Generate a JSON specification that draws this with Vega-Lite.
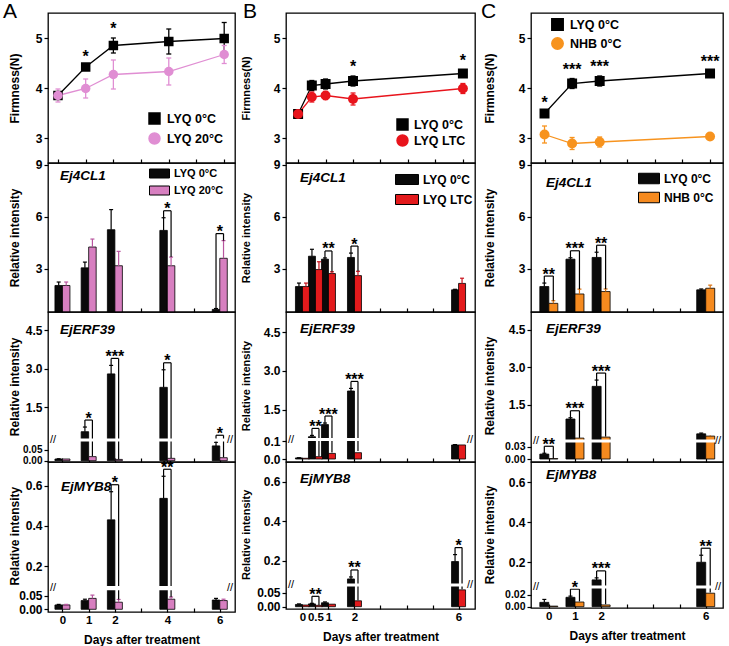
{
"$schema": "https://vega.github.io/schema/vega-lite/v6.json",
"padding": {"left": 3, "top": 1, "right": 0, "bottom": 0},
"background": "#ffffff",
"spacing": 3,
"bounds": "full",
"resolve": {"scale": {"color": "independent", "shape": "independent"}},
"config": {
 "view": {"stroke": "#000", "strokeWidth": 1.3},
 "font": "Liberation Sans",
 "axis": {"labelFont": "Liberation Sans", "labelFontSize": 12, "labelFontWeight": "bold", "labelColor": "#000", "titleFont": "Liberation Sans", "titleFontSize": 12, "titleFontWeight": "bold", "titleColor": "#000", "domain": false, "grid": false, "tickColor": "#000", "tickWidth": 1.2, "labelOverlap": false, "labelFlush": false},
 "legend": {"labelFont": "Liberation Sans", "labelColor": "#000", "padding": 0},
 "title": {"font": "Liberation Sans", "color": "#000"},
 "text": {"font": "Liberation Sans", "color": "#000"}
},
"datasets": {
 "firmA": [
  {"grp": "LYQ 0°C", "day": 0, "m": 3.85, "sd": 0.05, "sig": ""},
  {"grp": "LYQ 0°C", "day": 1, "m": 4.42, "sd": 0.03, "sig": "*"},
  {"grp": "LYQ 0°C", "day": 2, "m": 4.85, "sd": 0.15, "sig": "*"},
  {"grp": "LYQ 0°C", "day": 4, "m": 4.93, "sd": 0.25, "sig": ""},
  {"grp": "LYQ 0°C", "day": 6, "m": 4.99, "sd": 0.32, "sig": ""},
  {"grp": "LYQ 20°C", "day": 0, "m": 3.85, "sd": 0.13, "sig": ""},
  {"grp": "LYQ 20°C", "day": 1, "m": 3.99, "sd": 0.19, "sig": ""},
  {"grp": "LYQ 20°C", "day": 2, "m": 4.27, "sd": 0.29, "sig": ""},
  {"grp": "LYQ 20°C", "day": 4, "m": 4.33, "sd": 0.27, "sig": ""},
  {"grp": "LYQ 20°C", "day": 6, "m": 4.67, "sd": 0.18, "sig": ""}
 ],
 "firmB": [
  {"grp": "LYQ 0°C", "day": 0, "m": 3.48, "sd": 0.03, "sig": ""},
  {"grp": "LYQ 0°C", "day": 0.5, "m": 4.05, "sd": 0.1, "sig": ""},
  {"grp": "LYQ 0°C", "day": 1, "m": 4.08, "sd": 0.1, "sig": ""},
  {"grp": "LYQ 0°C", "day": 2, "m": 4.14, "sd": 0.1, "sig": "*"},
  {"grp": "LYQ 0°C", "day": 6, "m": 4.29, "sd": 0.07, "sig": "*"},
  {"grp": "LYQ LTC", "day": 0, "m": 3.48, "sd": 0.06, "sig": ""},
  {"grp": "LYQ LTC", "day": 0.5, "m": 3.82, "sd": 0.1, "sig": ""},
  {"grp": "LYQ LTC", "day": 1, "m": 3.85, "sd": 0.08, "sig": ""},
  {"grp": "LYQ LTC", "day": 2, "m": 3.78, "sd": 0.12, "sig": ""},
  {"grp": "LYQ LTC", "day": 6, "m": 3.99, "sd": 0.1, "sig": ""}
 ],
 "firmC": [
  {"grp": "LYQ 0°C", "day": 0, "m": 3.49, "sd": 0.03, "sig": "*"},
  {"grp": "LYQ 0°C", "day": 1, "m": 4.09, "sd": 0.1, "sig": "***"},
  {"grp": "LYQ 0°C", "day": 2, "m": 4.14, "sd": 0.1, "sig": "***"},
  {"grp": "LYQ 0°C", "day": 6, "m": 4.29, "sd": 0.06, "sig": "***"},
  {"grp": "NHB 0°C", "day": 0, "m": 3.07, "sd": 0.17, "sig": ""},
  {"grp": "NHB 0°C", "day": 1, "m": 2.89, "sd": 0.12, "sig": ""},
  {"grp": "NHB 0°C", "day": 2, "m": 2.92, "sd": 0.1, "sig": ""},
  {"grp": "NHB 0°C", "day": 6, "m": 3.03, "sd": 0.06, "sig": ""}
 ],
 "genesA": [
  {"gene": "Ej4CL1", "day": 0, "c": 2.03, "cs": 0.2, "t": 2.03, "ts": 0.2, "sig": ""},
  {"gene": "Ej4CL1", "day": 1, "c": 3.05, "cs": 0.33, "t": 4.25, "ts": 0.46, "sig": ""},
  {"gene": "Ej4CL1", "day": 2, "c": 5.25, "cs": 1.16, "t": 3.17, "ts": 0.83, "sig": ""},
  {"gene": "Ej4CL1", "day": 4, "c": 5.21, "cs": 0.73, "t": 3.17, "ts": 0.5, "sig": "*"},
  {"gene": "Ej4CL1", "day": 6, "c": 0.65, "cs": 0.05, "t": 3.6, "ts": 1.02, "sig": "*"},
  {"gene": "EjERF39", "day": 0, "c": 0.008, "cs": 0.001, "t": 0.008, "ts": 0.001, "sig": ""},
  {"gene": "EjERF39", "day": 1, "c": 0.56, "cs": 0.18, "t": 0.019, "ts": 0.002, "sig": "*"},
  {"gene": "EjERF39", "day": 2, "c": 2.8, "cs": 0.33, "t": 0.006, "ts": 0.001, "sig": "***"},
  {"gene": "EjERF39", "day": 4, "c": 2.28, "cs": 0.68, "t": 0.011, "ts": 0.002, "sig": "*"},
  {"gene": "EjERF39", "day": 6, "c": 0.069, "cs": 0.017, "t": 0.014, "ts": 0.002, "sig": "*"},
  {"gene": "EjMYB8", "day": 0, "c": 0.016, "cs": 0.002, "t": 0.016, "ts": 0.002, "sig": ""},
  {"gene": "EjMYB8", "day": 1, "c": 0.032, "cs": 0.005, "t": 0.04, "ts": 0.012, "sig": ""},
  {"gene": "EjMYB8", "day": 2, "c": 0.43, "cs": 0.14, "t": 0.026, "ts": 0.01, "sig": "*"},
  {"gene": "EjMYB8", "day": 4, "c": 0.537, "cs": 0.11, "t": 0.037, "ts": 0.008, "sig": "**"},
  {"gene": "EjMYB8", "day": 6, "c": 0.034, "cs": 0.006, "t": 0.032, "ts": 0.005, "sig": ""}
 ],
 "genesB": [
  {"gene": "Ej4CL1", "day": 0, "c": 1.97, "cs": 0.2, "t": 1.97, "ts": 0.2, "sig": ""},
  {"gene": "Ej4CL1", "day": 0.5, "c": 3.72, "cs": 0.4, "t": 2.95, "ts": 0.45, "sig": ""},
  {"gene": "Ej4CL1", "day": 1, "c": 3.55, "cs": 0.07, "t": 2.72, "ts": 0.1, "sig": "**"},
  {"gene": "Ej4CL1", "day": 2, "c": 3.65, "cs": 0.25, "t": 2.6, "ts": 0.25, "sig": "*"},
  {"gene": "Ej4CL1", "day": 6, "c": 1.78, "cs": 0.03, "t": 2.15, "ts": 0.3, "sig": ""},
  {"gene": "EjERF39", "day": 0, "c": 0.006, "cs": 0.001, "t": 0.004, "ts": 0.001, "sig": ""},
  {"gene": "EjERF39", "day": 0.5, "c": 0.45, "cs": 0.05, "t": 0.013, "ts": 0.002, "sig": "**"},
  {"gene": "EjERF39", "day": 1, "c": 0.92, "cs": 0.06, "t": 0.031, "ts": 0.005, "sig": "***"},
  {"gene": "EjERF39", "day": 2, "c": 2.22, "cs": 0.1, "t": 0.035, "ts": 0.01, "sig": "***"},
  {"gene": "EjERF39", "day": 6, "c": 0.078, "cs": 0.002, "t": 0.078, "ts": 0.002, "sig": ""},
  {"gene": "EjMYB8", "day": 0, "c": 0.008, "cs": 0.002, "t": 0.006, "ts": 0.001, "sig": ""},
  {"gene": "EjMYB8", "day": 0.5, "c": 0.01, "cs": 0.002, "t": 0.005, "ts": 0.001, "sig": "**"},
  {"gene": "EjMYB8", "day": 1, "c": 0.014, "cs": 0.003, "t": 0.009, "ts": 0.002, "sig": ""},
  {"gene": "EjMYB8", "day": 2, "c": 0.109, "cs": 0.01, "t": 0.021, "ts": 0.002, "sig": "**"},
  {"gene": "EjMYB8", "day": 6, "c": 0.197, "cs": 0.035, "t": 0.06, "ts": 0.002, "sig": "*"}
 ],
 "genesC": [
  {"gene": "Ej4CL1", "day": 0, "c": 1.97, "cs": 0.2, "t": 1.0, "ts": 0.15, "sig": "**"},
  {"gene": "Ej4CL1", "day": 1, "c": 3.55, "cs": 0.08, "t": 1.54, "ts": 0.28, "sig": "***"},
  {"gene": "Ej4CL1", "day": 2, "c": 3.65, "cs": 0.3, "t": 1.68, "ts": 0.15, "sig": "**"},
  {"gene": "Ej4CL1", "day": 6, "c": 1.78, "cs": 0.05, "t": 1.87, "ts": 0.18, "sig": ""},
  {"gene": "EjERF39", "day": 0, "c": 0.012, "cs": 0.002, "t": 0.001, "ts": 0.0005, "sig": "**"},
  {"gene": "EjERF39", "day": 1, "c": 0.94, "cs": 0.05, "t": 0.18, "ts": 0.01, "sig": "***"},
  {"gene": "EjERF39", "day": 2, "c": 2.24, "cs": 0.25, "t": 0.22, "ts": 0.02, "sig": "***"},
  {"gene": "EjERF39", "day": 6, "c": 0.35, "cs": 0.03, "t": 0.26, "ts": 0.03, "sig": ""},
  {"gene": "EjMYB8", "day": 0, "c": 0.0074, "cs": 0.005, "t": 0.001, "ts": 0.0005, "sig": ""},
  {"gene": "EjMYB8", "day": 1, "c": 0.016, "cs": 0.002, "t": 0.008, "ts": 0.001, "sig": "*"},
  {"gene": "EjMYB8", "day": 2, "c": 0.112, "cs": 0.01, "t": 0.003, "ts": 0.001, "sig": "***"},
  {"gene": "EjMYB8", "day": 6, "c": 0.2, "cs": 0.035, "t": 0.023, "ts": 0.001, "sig": "**"}
 ]
},
"hconcat": [
{
 "title": {"text": "A", "anchor": "start", "frame": "group", "fontSize": 21, "fontWeight": "normal", "dx": -45, "offset": -10},
 "spacing": 0, "bounds": "flush",
 "resolve": {"scale": {"color": "independent", "shape": "independent"}},
 "vconcat": [
  {
   "width": 187, "height": 150,
   "data": {"name": "firmA"},
   "transform": [{"calculate": "datum.m + datum.sd", "as": "hi"}, {"calculate": "datum.m - datum.sd", "as": "lo"}],
   "encoding": {"x": {"field": "day", "type": "quantitative", "scale": {"domain": [-0.36, 6.39], "nice": false, "zero": false}, "axis": {"values": [0,1,2,3,4,5,6], "tickCount": 50, "labels": false, "tickSize": -4, "title": null}}},
   "layer": [
    {"mark": {"type": "line", "strokeWidth": 1.3}, "encoding": {"y": {"field": "m", "type": "quantitative", "scale": {"domain": [2.5, 5.5], "nice": false, "zero": false}, "axis": {"values": [3,4,5], "tickCount": 50, "format": "d", "title": "Firmness(N)", "tickSize": 4, "labelPadding": 2, "minExtent": 24, "maxExtent": 24, "titlePadding": 3, "labelOverlap": false}}, "color": {"field": "grp", "type": "nominal", "scale": {"domain": ["LYQ 0°C", "LYQ 20°C"], "range": ["#000000", "#e08ed3"]}, "legend": {"title": null, "orient": "none", "legendX": 100, "legendY": 99, "symbolSize": 120, "labelFontSize": 12.5, "labelFontWeight": "bold", "rowPadding": 3, "labelOffset": 6}}}},
    {"mark": {"type": "rule", "strokeWidth": 1.3}, "encoding": {"y": {"field": "lo", "type": "quantitative", "scale": {"domain": [2.5, 5.5], "nice": false, "zero": false}}, "y2": {"field": "hi"}, "color": {"field": "grp", "type": "nominal", "scale": {"domain": ["LYQ 0°C", "LYQ 20°C"], "range": ["#000000", "#e08ed3"]}, "legend": {"title": null, "orient": "none", "legendX": 100, "legendY": 99, "symbolSize": 120, "labelFontSize": 12.5, "labelFontWeight": "bold", "rowPadding": 3, "labelOffset": 6}}}},
    {"mark": {"type": "rule", "strokeWidth": 1.3, "xOffset": -2.5, "x2Offset": 2.5}, "encoding": {"x2": {"field": "day"}, "y": {"field": "hi", "type": "quantitative", "scale": {"domain": [2.5, 5.5], "nice": false, "zero": false}}, "color": {"field": "grp", "type": "nominal", "scale": {"domain": ["LYQ 0°C", "LYQ 20°C"], "range": ["#000000", "#e08ed3"]}, "legend": {"title": null, "orient": "none", "legendX": 100, "legendY": 99, "symbolSize": 120, "labelFontSize": 12.5, "labelFontWeight": "bold", "rowPadding": 3, "labelOffset": 6}}}},
    {"mark": {"type": "rule", "strokeWidth": 1.3, "xOffset": -2.5, "x2Offset": 2.5}, "encoding": {"x2": {"field": "day"}, "y": {"field": "lo", "type": "quantitative", "scale": {"domain": [2.5, 5.5], "nice": false, "zero": false}}, "color": {"field": "grp", "type": "nominal", "scale": {"domain": ["LYQ 0°C", "LYQ 20°C"], "range": ["#000000", "#e08ed3"]}, "legend": {"title": null, "orient": "none", "legendX": 100, "legendY": 99, "symbolSize": 120, "labelFontSize": 12.5, "labelFontWeight": "bold", "rowPadding": 3, "labelOffset": 6}}}},
    {"mark": {"type": "point", "filled": true, "size": 90, "opacity": 1}, "encoding": {"y": {"field": "m", "type": "quantitative", "scale": {"domain": [2.5, 5.5], "nice": false, "zero": false}}, "color": {"field": "grp", "type": "nominal", "scale": {"domain": ["LYQ 0°C", "LYQ 20°C"], "range": ["#000000", "#e08ed3"]}, "legend": {"title": null, "orient": "none", "legendX": 100, "legendY": 99, "symbolSize": 120, "labelFontSize": 12.5, "labelFontWeight": "bold", "rowPadding": 3, "labelOffset": 6}}, "shape": {"field": "grp", "type": "nominal", "scale": {"domain": ["LYQ 0°C", "LYQ 20°C"], "range": ["square", "circle"]}, "legend": {"title": null, "orient": "none", "legendX": 100, "legendY": 99, "symbolSize": 120, "labelFontSize": 12.5, "labelFontWeight": "bold", "rowPadding": 3, "labelOffset": 6}}}},
    {"transform": [{"filter": "datum.sig != ''"}], "mark": {"type": "text", "fontSize": 16, "fontWeight": "bold", "dy": -4, "baseline": "alphabetic"}, "encoding": {"y": {"field": "hi", "type": "quantitative", "scale": {"domain": [2.5, 5.5], "nice": false, "zero": false}}, "text": {"field": "sig"}}}
   ]
  },
  {
   "width": 187, "height": 149,
   "data": {"name": "genesA"},
   "transform": [{"filter": "datum.gene == 'Ej4CL1'"}, {"calculate": "datum.c + datum.cs", "as": "cu"}, {"calculate": "datum.t + datum.ts", "as": "tu"}, {"calculate": "max(datum.cu, datum.tu)", "as": "hi"}],
   "layer": [
    {"mark": {"type": "bar", "width": 7.5, "xOffset": -3.75, "stroke": "#000", "strokeWidth": 0.8}, "encoding": {"x": {"field": "day", "type": "quantitative", "scale": {"domain": [-0.36, 6.39], "nice": false, "zero": false}, "axis": {"values": [0,1,2,3,4,5,6], "tickCount": 50, "labels": false, "tickSize": -4, "title": null}}, "y": {"field": "c", "type": "quantitative", "scale": {"domain": [0.5, 9.1], "nice": false, "zero": false}, "axis": {"values": [3,6,9], "tickCount": 50, "format": "d", "title": "Relative intensity", "tickSize": 4, "labelPadding": 2, "minExtent": 24, "maxExtent": 24, "titlePadding": 3, "labelOverlap": false}}, "y2": {"datum": 0.5}, "color": {"datum": "LYQ 0°C", "scale": {"domain": ["LYQ 0°C", "LYQ 20°C"], "range": ["#0a0a0a", "#d77fc0"]}, "legend": {"title": null, "orient": "none", "legendX": 101, "legendY": 0, "symbolType": "M-1,-0.45H1V0.45H-1Z", "symbolSize": 400, "symbolStrokeColor": "#000", "symbolStrokeWidth": 1, "labelFontSize": 11, "labelFontWeight": "bold", "rowPadding": -8, "labelOffset": 4}}}},
    {"mark": {"type": "bar", "width": 7.5, "xOffset": 3.75, "stroke": "#000", "strokeWidth": 0.8}, "encoding": {"x": {"field": "day", "type": "quantitative"}, "y": {"field": "t", "type": "quantitative", "scale": {"domain": [0.5, 9.1], "nice": false, "zero": false}}, "y2": {"datum": 0.5}, "color": {"datum": "LYQ 20°C", "scale": {"domain": ["LYQ 0°C", "LYQ 20°C"], "range": ["#0a0a0a", "#d77fc0"]}, "legend": {"title": null, "orient": "none", "legendX": 101, "legendY": 0, "symbolType": "M-1,-0.45H1V0.45H-1Z", "symbolSize": 400, "symbolStrokeColor": "#000", "symbolStrokeWidth": 1, "labelFontSize": 11, "labelFontWeight": "bold", "rowPadding": -8, "labelOffset": 4}}}},
    {"mark": {"type": "rule", "xOffset": -3.75, "strokeWidth": 1.2, "color": "#000"}, "encoding": {"x": {"field": "day", "type": "quantitative"}, "y": {"field": "c", "type": "quantitative", "scale": {"domain": [0.5, 9.1], "nice": false, "zero": false}}, "y2": {"field": "cu"}}},
    {"mark": {"type": "rule", "xOffset": -5.75, "x2Offset": -1.75, "strokeWidth": 1.2, "color": "#000"}, "encoding": {"x": {"field": "day", "type": "quantitative"}, "x2": {"field": "day"}, "y": {"field": "cu", "type": "quantitative", "scale": {"domain": [0.5, 9.1], "nice": false, "zero": false}}}},
    {"mark": {"type": "rule", "xOffset": 3.75, "strokeWidth": 1.2, "color": "#b8559f"}, "encoding": {"x": {"field": "day", "type": "quantitative"}, "y": {"field": "t", "type": "quantitative", "scale": {"domain": [0.5, 9.1], "nice": false, "zero": false}}, "y2": {"field": "tu"}}},
    {"mark": {"type": "rule", "xOffset": 1.75, "x2Offset": 5.75, "strokeWidth": 1.2, "color": "#b8559f"}, "encoding": {"x": {"field": "day", "type": "quantitative"}, "x2": {"field": "day"}, "y": {"field": "tu", "type": "quantitative", "scale": {"domain": [0.5, 9.1], "nice": false, "zero": false}}}},
    {"transform": [{"filter": "datum.sig != ''"}], "mark": {"type": "rule", "xOffset": -3.75, "y2Offset": -7, "strokeWidth": 1.2, "color": "#000"}, "encoding": {"x": {"field": "day", "type": "quantitative"}, "y": {"field": "cu", "type": "quantitative", "scale": {"domain": [0.5, 9.1], "nice": false, "zero": false}}, "y2": {"field": "hi"}}},
    {"transform": [{"filter": "datum.sig != ''"}], "mark": {"type": "rule", "xOffset": -3.75, "x2Offset": 3.75, "yOffset": -7, "strokeWidth": 1.2, "color": "#000"}, "encoding": {"x": {"field": "day", "type": "quantitative"}, "x2": {"field": "day"}, "y": {"field": "hi", "type": "quantitative", "scale": {"domain": [0.5, 9.1], "nice": false, "zero": false}}}},
    {"transform": [{"filter": "datum.sig != ''"}], "mark": {"type": "rule", "xOffset": 3.75, "y2Offset": -7, "strokeWidth": 1.2, "color": "#000"}, "encoding": {"x": {"field": "day", "type": "quantitative"}, "y": {"field": "tu", "type": "quantitative", "scale": {"domain": [0.5, 9.1], "nice": false, "zero": false}}, "y2": {"field": "hi"}}},
    {"transform": [{"filter": "datum.sig != ''"}], "mark": {"type": "text", "fontSize": 16, "fontWeight": "bold", "dy": -3.5, "baseline": "alphabetic"}, "encoding": {"x": {"field": "day", "type": "quantitative"}, "y": {"field": "hi", "type": "quantitative", "scale": {"domain": [0.5, 9.1], "nice": false, "zero": false}}, "text": {"field": "sig"}}},
    {"data": {"values": [{"gene": "Ej4CL1"}]}, "mark": {"type": "text", "text": "Ej4CL1", "fontSize": 13.5, "fontWeight": "bold", "fontStyle": "italic", "align": "left", "baseline": "middle", "dx": 7, "dy": 13}, "encoding": {"x": {"datum": -0.36, "type": "quantitative"}, "y": {"datum": 9.1, "type": "quantitative"}}}
   ]
  },
  {
   "width": 187, "height": 150,
   "data": {"name": "genesA"},
   "transform": [{"filter": "datum.gene == 'EjERF39'"}, {"calculate": "datum.c + datum.cs", "as": "cu"}, {"calculate": "datum.t + datum.ts", "as": "tu"}, {"calculate": "max(datum.cu, datum.tu)", "as": "hi"}],
   "layer": [
    {"mark": {"type": "bar", "width": 7.5, "xOffset": -3.75, "stroke": "#000", "strokeWidth": 0.8}, "encoding": {"x": {"field": "day", "type": "quantitative", "scale": {"domain": [-0.36, 6.39], "nice": false, "zero": false}, "axis": {"values": [0,1,2,3,4,5,6], "tickCount": 50, "labels": false, "tickSize": -4, "title": null}}, "y": {"field": "c", "type": "quantitative", "scale": {"domain": [0, 0.09, 0.3, 5.2], "range": [148.7, 129.4, 126.4, 0], "nice": false, "zero": false}, "axis": {"values": [0, 0.05, 1.5, 3, 4.5], "tickCount": 50, "labelExpr": "datum.value < 0.1 ? format(datum.value, '.2f') : format(datum.value, '.1f')", "labelFontSize": {"condition": {"test": "datum.value < 0.1", "value": 10}, "value": 12}, "title": "Relative intensity", "tickSize": 4, "labelPadding": 2, "minExtent": 24, "maxExtent": 24, "titlePadding": 3, "labelOverlap": false}}, "y2": {"datum": 0}, "color": {"datum": "LYQ 0°C", "scale": {"domain": ["LYQ 0°C", "LYQ 20°C"], "range": ["#0a0a0a", "#d77fc0"]}, "legend": null}}},
    {"mark": {"type": "bar", "width": 7.5, "xOffset": 3.75, "stroke": "#000", "strokeWidth": 0.8}, "encoding": {"x": {"field": "day", "type": "quantitative"}, "y": {"field": "t", "type": "quantitative", "scale": {"domain": [0, 0.09, 0.3, 5.2], "range": [148.7, 129.4, 126.4, 0], "nice": false, "zero": false}}, "y2": {"datum": 0}, "color": {"datum": "LYQ 20°C", "scale": {"domain": ["LYQ 0°C", "LYQ 20°C"], "range": ["#0a0a0a", "#d77fc0"]}, "legend": null}}},
    {"mark": {"type": "rule", "xOffset": -3.75, "strokeWidth": 1.2, "color": "#000"}, "encoding": {"x": {"field": "day", "type": "quantitative"}, "y": {"field": "c", "type": "quantitative", "scale": {"domain": [0, 0.09, 0.3, 5.2], "range": [148.7, 129.4, 126.4, 0], "nice": false, "zero": false}}, "y2": {"field": "cu"}}},
    {"mark": {"type": "rule", "xOffset": -5.75, "x2Offset": -1.75, "strokeWidth": 1.2, "color": "#000"}, "encoding": {"x": {"field": "day", "type": "quantitative"}, "x2": {"field": "day"}, "y": {"field": "cu", "type": "quantitative", "scale": {"domain": [0, 0.09, 0.3, 5.2], "range": [148.7, 129.4, 126.4, 0], "nice": false, "zero": false}}}},
    {"transform": [{"filter": "datum.sig != ''"}], "mark": {"type": "rule", "xOffset": -3.75, "y2Offset": -7, "strokeWidth": 1.2, "color": "#000"}, "encoding": {"x": {"field": "day", "type": "quantitative"}, "y": {"field": "cu", "type": "quantitative", "scale": {"domain": [0, 0.09, 0.3, 5.2], "range": [148.7, 129.4, 126.4, 0], "nice": false, "zero": false}}, "y2": {"field": "hi"}}},
    {"transform": [{"filter": "datum.sig != ''"}], "mark": {"type": "rule", "xOffset": -3.75, "x2Offset": 3.75, "yOffset": -7, "strokeWidth": 1.2, "color": "#000"}, "encoding": {"x": {"field": "day", "type": "quantitative"}, "x2": {"field": "day"}, "y": {"field": "hi", "type": "quantitative", "scale": {"domain": [0, 0.09, 0.3, 5.2], "range": [148.7, 129.4, 126.4, 0], "nice": false, "zero": false}}}},
    {"transform": [{"filter": "datum.sig != ''"}], "mark": {"type": "rule", "xOffset": 3.75, "y2Offset": -7, "strokeWidth": 1.2, "color": "#000"}, "encoding": {"x": {"field": "day", "type": "quantitative"}, "y": {"field": "tu", "type": "quantitative", "scale": {"domain": [0, 0.09, 0.3, 5.2], "range": [148.7, 129.4, 126.4, 0], "nice": false, "zero": false}}, "y2": {"field": "hi"}}},
    {"data": {"values": [{"gene": "EjERF39"}]}, "mark": {"type": "rect", "fill": "#ffffff", "xOffset": -2, "x2Offset": 2}, "encoding": {"x": {"datum": -0.36, "type": "quantitative"}, "x2": {"datum": 6.39}, "y": {"datum": 0.09, "type": "quantitative"}, "y2": {"datum": 0.3}}},
    {"data": {"values": [{"gene": "EjERF39"}]}, "mark": {"type": "text", "text": "//", "fontSize": 11, "align": "center", "baseline": "middle"}, "encoding": {"x": {"datum": -0.36, "type": "quantitative"}, "y": {"datum": 0.2, "type": "quantitative"}}},
    {"data": {"values": [{"gene": "EjERF39"}]}, "mark": {"type": "text", "text": "//", "fontSize": 11, "align": "center", "baseline": "middle"}, "encoding": {"x": {"datum": 6.39, "type": "quantitative"}, "y": {"datum": 0.2, "type": "quantitative"}}},
    {"transform": [{"filter": "datum.sig != ''"}], "mark": {"type": "text", "fontSize": 16, "fontWeight": "bold", "dy": -3.5, "baseline": "alphabetic"}, "encoding": {"x": {"field": "day", "type": "quantitative"}, "y": {"field": "hi", "type": "quantitative", "scale": {"domain": [0, 0.09, 0.3, 5.2], "range": [148.7, 129.4, 126.4, 0], "nice": false, "zero": false}}, "text": {"field": "sig"}}},
    {"data": {"values": [{"gene": "EjERF39"}]}, "mark": {"type": "text", "text": "EjERF39", "fontSize": 13.5, "fontWeight": "bold", "fontStyle": "italic", "align": "left", "baseline": "middle", "dx": 7, "dy": 18}, "encoding": {"x": {"datum": -0.36, "type": "quantitative"}, "y": {"datum": 5.2, "type": "quantitative"}}}
   ]
  },
  {
   "width": 187, "height": 150,
   "data": {"name": "genesA"},
   "transform": [{"filter": "datum.gene == 'EjMYB8'"}, {"calculate": "datum.c + datum.cs", "as": "cu"}, {"calculate": "datum.t + datum.ts", "as": "tu"}, {"calculate": "max(datum.cu, datum.tu)", "as": "hi"}],
   "layer": [
    {"mark": {"type": "bar", "width": 7.5, "xOffset": -3.75, "stroke": "#000", "strokeWidth": 0.8}, "encoding": {"x": {"field": "day", "type": "quantitative", "scale": {"domain": [-0.36, 6.39], "nice": false, "zero": false}, "axis": {"values": [0,1,2,3,4,5,6], "tickCount": 50, "tickSize": -4, "labelExpr": "indexof([0,1,2,4,6], datum.value) >= 0 ? '' + datum.value : ''", "labelPadding": 6, "labelFontSize": 11.5, "labelOverlap": false, "title": "Days after treatment", "titlePadding": 9}}, "y": {"field": "c", "type": "quantitative", "scale": {"domain": [0, 0.07, 0.1, 0.718], "range": [147.3, 128.2, 124.1, 0], "nice": false, "zero": false}, "axis": {"values": [0, 0.05, 0.2, 0.4, 0.6], "tickCount": 50, "labelExpr": "datum.value < 0.1 ? format(datum.value, '.2f') : format(datum.value, '.1f')", "title": "Relative intensity", "tickSize": 4, "labelPadding": 2, "minExtent": 24, "maxExtent": 24, "titlePadding": 3, "labelOverlap": false}}, "y2": {"datum": 0}, "color": {"datum": "LYQ 0°C", "scale": {"domain": ["LYQ 0°C", "LYQ 20°C"], "range": ["#0a0a0a", "#d77fc0"]}, "legend": null}}},
    {"mark": {"type": "bar", "width": 7.5, "xOffset": 3.75, "stroke": "#000", "strokeWidth": 0.8}, "encoding": {"x": {"field": "day", "type": "quantitative"}, "y": {"field": "t", "type": "quantitative", "scale": {"domain": [0, 0.07, 0.1, 0.718], "range": [147.3, 128.2, 124.1, 0], "nice": false, "zero": false}}, "y2": {"datum": 0}, "color": {"datum": "LYQ 20°C", "scale": {"domain": ["LYQ 0°C", "LYQ 20°C"], "range": ["#0a0a0a", "#d77fc0"]}, "legend": null}}},
    {"mark": {"type": "rule", "xOffset": -3.75, "strokeWidth": 1.2, "color": "#000"}, "encoding": {"x": {"field": "day", "type": "quantitative"}, "y": {"field": "c", "type": "quantitative", "scale": {"domain": [0, 0.07, 0.1, 0.718], "range": [147.3, 128.2, 124.1, 0], "nice": false, "zero": false}}, "y2": {"field": "cu"}}},
    {"mark": {"type": "rule", "xOffset": -5.75, "x2Offset": -1.75, "strokeWidth": 1.2, "color": "#000"}, "encoding": {"x": {"field": "day", "type": "quantitative"}, "x2": {"field": "day"}, "y": {"field": "cu", "type": "quantitative", "scale": {"domain": [0, 0.07, 0.1, 0.718], "range": [147.3, 128.2, 124.1, 0], "nice": false, "zero": false}}}},
    {"mark": {"type": "rule", "xOffset": 3.75, "strokeWidth": 1.2, "color": "#b8559f"}, "encoding": {"x": {"field": "day", "type": "quantitative"}, "y": {"field": "t", "type": "quantitative", "scale": {"domain": [0, 0.07, 0.1, 0.718], "range": [147.3, 128.2, 124.1, 0], "nice": false, "zero": false}}, "y2": {"field": "tu"}}},
    {"mark": {"type": "rule", "xOffset": 1.75, "x2Offset": 5.75, "strokeWidth": 1.2, "color": "#b8559f"}, "encoding": {"x": {"field": "day", "type": "quantitative"}, "x2": {"field": "day"}, "y": {"field": "tu", "type": "quantitative", "scale": {"domain": [0, 0.07, 0.1, 0.718], "range": [147.3, 128.2, 124.1, 0], "nice": false, "zero": false}}}},
    {"transform": [{"filter": "datum.sig != ''"}], "mark": {"type": "rule", "xOffset": -3.75, "y2Offset": -7, "strokeWidth": 1.2, "color": "#000"}, "encoding": {"x": {"field": "day", "type": "quantitative"}, "y": {"field": "cu", "type": "quantitative", "scale": {"domain": [0, 0.07, 0.1, 0.718], "range": [147.3, 128.2, 124.1, 0], "nice": false, "zero": false}}, "y2": {"field": "hi"}}},
    {"transform": [{"filter": "datum.sig != ''"}], "mark": {"type": "rule", "xOffset": -3.75, "x2Offset": 3.75, "yOffset": -7, "strokeWidth": 1.2, "color": "#000"}, "encoding": {"x": {"field": "day", "type": "quantitative"}, "x2": {"field": "day"}, "y": {"field": "hi", "type": "quantitative", "scale": {"domain": [0, 0.07, 0.1, 0.718], "range": [147.3, 128.2, 124.1, 0], "nice": false, "zero": false}}}},
    {"transform": [{"filter": "datum.sig != ''"}], "mark": {"type": "rule", "xOffset": 3.75, "y2Offset": -7, "strokeWidth": 1.2, "color": "#000"}, "encoding": {"x": {"field": "day", "type": "quantitative"}, "y": {"field": "tu", "type": "quantitative", "scale": {"domain": [0, 0.07, 0.1, 0.718], "range": [147.3, 128.2, 124.1, 0], "nice": false, "zero": false}}, "y2": {"field": "hi"}}},
    {"data": {"values": [{"gene": "EjMYB8"}]}, "mark": {"type": "rect", "fill": "#ffffff", "xOffset": -2, "x2Offset": 2}, "encoding": {"x": {"datum": -0.36, "type": "quantitative"}, "x2": {"datum": 6.39}, "y": {"datum": 0.07, "type": "quantitative"}, "y2": {"datum": 0.1}}},
    {"data": {"values": [{"gene": "EjMYB8"}]}, "mark": {"type": "text", "text": "//", "fontSize": 11, "align": "center", "baseline": "middle"}, "encoding": {"x": {"datum": -0.36, "type": "quantitative"}, "y": {"datum": 0.085, "type": "quantitative"}}},
    {"data": {"values": [{"gene": "EjMYB8"}]}, "mark": {"type": "text", "text": "//", "fontSize": 11, "align": "center", "baseline": "middle"}, "encoding": {"x": {"datum": 6.39, "type": "quantitative"}, "y": {"datum": 0.085, "type": "quantitative"}}},
    {"transform": [{"filter": "datum.sig != ''"}], "mark": {"type": "text", "fontSize": 16, "fontWeight": "bold", "dy": -3.5, "baseline": "alphabetic"}, "encoding": {"x": {"field": "day", "type": "quantitative"}, "y": {"field": "hi", "type": "quantitative", "scale": {"domain": [0, 0.07, 0.1, 0.718], "range": [147.3, 128.2, 124.1, 0], "nice": false, "zero": false}}, "text": {"field": "sig"}}},
    {"data": {"values": [{"gene": "EjMYB8"}]}, "mark": {"type": "text", "text": "EjMYB8", "fontSize": 13.5, "fontWeight": "bold", "fontStyle": "italic", "align": "left", "baseline": "middle", "dx": 8, "dy": 25}, "encoding": {"x": {"datum": -0.36, "type": "quantitative"}, "y": {"datum": 0.718, "type": "quantitative"}}}
   ]
  }
 ]
},
{
 "spacing": 5, "bounds": "full",
 "resolve": {"scale": {"color": "independent", "shape": "independent"}},
 "hconcat": [
 {
  "title": {"text": "B", "anchor": "start", "frame": "group", "fontSize": 21, "fontWeight": "normal", "dx": -43, "offset": -10},
  "spacing": 0, "bounds": "flush",
  "resolve": {"scale": {"color": "independent", "shape": "independent"}},
  "vconcat": [
   {
    "width": 189, "height": 150,
    "data": {"name": "firmB"},
    "transform": [{"calculate": "datum.m + datum.sd", "as": "hi"}, {"calculate": "datum.m - datum.sd", "as": "lo"}],
    "encoding": {"x": {"field": "day", "type": "quantitative", "scale": {"domain": [-0.44, 6.44], "nice": false, "zero": false}, "axis": {"values": [0,1,2,3,4,5,6], "tickCount": 50, "labels": false, "tickSize": -4, "title": null}}},
    "layer": [
     {"mark": {"type": "line", "strokeWidth": 1.3}, "encoding": {"y": {"field": "m", "type": "quantitative", "scale": {"domain": [2.5, 5.5], "nice": false, "zero": false}, "axis": {"values": [3,4,5], "tickCount": 50, "format": "d", "title": "Firmness(N)", "titleFontSize": 11, "tickSize": 4, "labelPadding": 2, "minExtent": 32, "maxExtent": 32, "titlePadding": 3, "labelOverlap": false}}, "color": {"field": "grp", "type": "nominal", "scale": {"domain": ["LYQ 0°C", "LYQ LTC"], "range": ["#000000", "#e8141c"]}, "legend": {"title": null, "orient": "none", "legendX": 110, "legendY": 105, "symbolSize": 120, "labelFontSize": 12.5, "labelFontWeight": "bold", "rowPadding": -1, "labelOffset": 5}}}},
     {"mark": {"type": "rule", "strokeWidth": 1.3}, "encoding": {"y": {"field": "lo", "type": "quantitative", "scale": {"domain": [2.5, 5.5], "nice": false, "zero": false}}, "y2": {"field": "hi"}, "color": {"field": "grp", "type": "nominal", "scale": {"domain": ["LYQ 0°C", "LYQ LTC"], "range": ["#000000", "#e8141c"]}, "legend": {"title": null, "orient": "none", "legendX": 110, "legendY": 105, "symbolSize": 120, "labelFontSize": 12.5, "labelFontWeight": "bold", "rowPadding": -1, "labelOffset": 5}}}},
     {"mark": {"type": "rule", "strokeWidth": 1.3, "xOffset": -2.5, "x2Offset": 2.5}, "encoding": {"x2": {"field": "day"}, "y": {"field": "hi", "type": "quantitative", "scale": {"domain": [2.5, 5.5], "nice": false, "zero": false}}, "color": {"field": "grp", "type": "nominal", "scale": {"domain": ["LYQ 0°C", "LYQ LTC"], "range": ["#000000", "#e8141c"]}, "legend": {"title": null, "orient": "none", "legendX": 110, "legendY": 105, "symbolSize": 120, "labelFontSize": 12.5, "labelFontWeight": "bold", "rowPadding": -1, "labelOffset": 5}}}},
     {"mark": {"type": "rule", "strokeWidth": 1.3, "xOffset": -2.5, "x2Offset": 2.5}, "encoding": {"x2": {"field": "day"}, "y": {"field": "lo", "type": "quantitative", "scale": {"domain": [2.5, 5.5], "nice": false, "zero": false}}, "color": {"field": "grp", "type": "nominal", "scale": {"domain": ["LYQ 0°C", "LYQ LTC"], "range": ["#000000", "#e8141c"]}, "legend": {"title": null, "orient": "none", "legendX": 110, "legendY": 105, "symbolSize": 120, "labelFontSize": 12.5, "labelFontWeight": "bold", "rowPadding": -1, "labelOffset": 5}}}},
     {"mark": {"type": "point", "filled": true, "size": 100, "opacity": 1}, "encoding": {"y": {"field": "m", "type": "quantitative", "scale": {"domain": [2.5, 5.5], "nice": false, "zero": false}}, "color": {"field": "grp", "type": "nominal", "scale": {"domain": ["LYQ 0°C", "LYQ LTC"], "range": ["#000000", "#e8141c"]}, "legend": {"title": null, "orient": "none", "legendX": 110, "legendY": 105, "symbolSize": 120, "labelFontSize": 12.5, "labelFontWeight": "bold", "rowPadding": -1, "labelOffset": 5}}, "shape": {"field": "grp", "type": "nominal", "scale": {"domain": ["LYQ 0°C", "LYQ LTC"], "range": ["square", "circle"]}, "legend": {"title": null, "orient": "none", "legendX": 110, "legendY": 105, "symbolSize": 120, "labelFontSize": 12.5, "labelFontWeight": "bold", "rowPadding": -1, "labelOffset": 5}}}},
     {"transform": [{"filter": "datum.sig != ''"}], "mark": {"type": "text", "fontSize": 16, "fontWeight": "bold", "dy": -4, "baseline": "alphabetic"}, "encoding": {"y": {"field": "hi", "type": "quantitative", "scale": {"domain": [2.5, 5.5], "nice": false, "zero": false}}, "text": {"field": "sig"}}}
    ]
   },
   {
    "width": 189, "height": 149,
    "data": {"name": "genesB"},
    "transform": [{"filter": "datum.gene == 'Ej4CL1'"}, {"calculate": "datum.c + datum.cs", "as": "cu"}, {"calculate": "datum.t + datum.ts", "as": "tu"}, {"calculate": "max(datum.cu, datum.tu)", "as": "hi"}],
    "layer": [
     {"mark": {"type": "bar", "width": 7, "xOffset": -3.5, "stroke": "#000", "strokeWidth": 0.8}, "encoding": {"x": {"field": "day", "type": "quantitative", "scale": {"domain": [-0.44, 6.44], "nice": false, "zero": false}, "axis": {"values": [0,1,2,3,4,5,6], "tickCount": 50, "labels": false, "tickSize": -4, "title": null}}, "y": {"field": "c", "type": "quantitative", "scale": {"domain": [0.5, 9.1], "nice": false, "zero": false}, "axis": {"values": [3,6,9], "tickCount": 50, "format": "d", "title": "Relative intensity", "titleFontSize": 11, "tickSize": 4, "labelPadding": 2, "minExtent": 32, "maxExtent": 32, "titlePadding": 3, "labelOverlap": false}}, "y2": {"datum": 0.5}, "color": {"datum": "LYQ 0°C", "scale": {"domain": ["LYQ 0°C", "LYQ LTC"], "range": ["#0a0a0a", "#e31a1c"]}, "legend": {"title": null, "orient": "none", "legendX": 109, "legendY": 4.5, "symbolType": "M-1,-0.435H1V0.435H-1Z", "symbolSize": 529, "symbolStrokeColor": "#000", "symbolStrokeWidth": 1, "labelFontSize": 12, "labelFontWeight": "bold", "rowPadding": -7, "labelOffset": 4}}}},
     {"mark": {"type": "bar", "width": 7, "xOffset": 3.5, "stroke": "#000", "strokeWidth": 0.8}, "encoding": {"x": {"field": "day", "type": "quantitative"}, "y": {"field": "t", "type": "quantitative", "scale": {"domain": [0.5, 9.1], "nice": false, "zero": false}}, "y2": {"datum": 0.5}, "color": {"datum": "LYQ LTC", "scale": {"domain": ["LYQ 0°C", "LYQ LTC"], "range": ["#0a0a0a", "#e31a1c"]}, "legend": {"title": null, "orient": "none", "legendX": 109, "legendY": 4.5, "symbolType": "M-1,-0.435H1V0.435H-1Z", "symbolSize": 529, "symbolStrokeColor": "#000", "symbolStrokeWidth": 1, "labelFontSize": 12, "labelFontWeight": "bold", "rowPadding": -7, "labelOffset": 4}}}},
     {"mark": {"type": "rule", "xOffset": -3.5, "strokeWidth": 1.2, "color": "#000"}, "encoding": {"x": {"field": "day", "type": "quantitative"}, "y": {"field": "c", "type": "quantitative", "scale": {"domain": [0.5, 9.1], "nice": false, "zero": false}}, "y2": {"field": "cu"}}},
     {"mark": {"type": "rule", "xOffset": -5.5, "x2Offset": -1.5, "strokeWidth": 1.2, "color": "#000"}, "encoding": {"x": {"field": "day", "type": "quantitative"}, "x2": {"field": "day"}, "y": {"field": "cu", "type": "quantitative", "scale": {"domain": [0.5, 9.1], "nice": false, "zero": false}}}},
     {"mark": {"type": "rule", "xOffset": 3.5, "strokeWidth": 1.2, "color": "#c8101a"}, "encoding": {"x": {"field": "day", "type": "quantitative"}, "y": {"field": "t", "type": "quantitative", "scale": {"domain": [0.5, 9.1], "nice": false, "zero": false}}, "y2": {"field": "tu"}}},
     {"mark": {"type": "rule", "xOffset": 1.5, "x2Offset": 5.5, "strokeWidth": 1.2, "color": "#c8101a"}, "encoding": {"x": {"field": "day", "type": "quantitative"}, "x2": {"field": "day"}, "y": {"field": "tu", "type": "quantitative", "scale": {"domain": [0.5, 9.1], "nice": false, "zero": false}}}},
     {"transform": [{"filter": "datum.sig != ''"}], "mark": {"type": "rule", "xOffset": -3.5, "y2Offset": -7, "strokeWidth": 1.2, "color": "#000"}, "encoding": {"x": {"field": "day", "type": "quantitative"}, "y": {"field": "cu", "type": "quantitative", "scale": {"domain": [0.5, 9.1], "nice": false, "zero": false}}, "y2": {"field": "hi"}}},
     {"transform": [{"filter": "datum.sig != ''"}], "mark": {"type": "rule", "xOffset": -3.5, "x2Offset": 3.5, "yOffset": -7, "strokeWidth": 1.2, "color": "#000"}, "encoding": {"x": {"field": "day", "type": "quantitative"}, "x2": {"field": "day"}, "y": {"field": "hi", "type": "quantitative", "scale": {"domain": [0.5, 9.1], "nice": false, "zero": false}}}},
     {"transform": [{"filter": "datum.sig != ''"}], "mark": {"type": "rule", "xOffset": 3.5, "y2Offset": -7, "strokeWidth": 1.2, "color": "#000"}, "encoding": {"x": {"field": "day", "type": "quantitative"}, "y": {"field": "tu", "type": "quantitative", "scale": {"domain": [0.5, 9.1], "nice": false, "zero": false}}, "y2": {"field": "hi"}}},
     {"transform": [{"filter": "datum.sig != ''"}], "mark": {"type": "text", "fontSize": 16, "fontWeight": "bold", "dy": -3.5, "baseline": "alphabetic"}, "encoding": {"x": {"field": "day", "type": "quantitative"}, "y": {"field": "hi", "type": "quantitative", "scale": {"domain": [0.5, 9.1], "nice": false, "zero": false}}, "text": {"field": "sig"}}},
     {"data": {"values": [{"gene": "Ej4CL1"}]}, "mark": {"type": "text", "text": "Ej4CL1", "fontSize": 13.5, "fontWeight": "bold", "fontStyle": "italic", "align": "left", "baseline": "middle", "dx": 9, "dy": 15}, "encoding": {"x": {"datum": -0.44, "type": "quantitative"}, "y": {"datum": 9.1, "type": "quantitative"}}}
    ]
   },
   {
    "width": 189, "height": 150,
    "data": {"name": "genesB"},
    "transform": [{"filter": "datum.gene == 'EjERF39'"}, {"calculate": "datum.c + datum.cs", "as": "cu"}, {"calculate": "datum.t + datum.ts", "as": "tu"}, {"calculate": "max(datum.cu, datum.tu)", "as": "hi"}],
    "layer": [
     {"mark": {"type": "bar", "width": 7, "xOffset": -3.5, "stroke": "#000", "strokeWidth": 0.8}, "encoding": {"x": {"field": "day", "type": "quantitative", "scale": {"domain": [-0.44, 6.44], "nice": false, "zero": false}, "axis": {"values": [0,1,2,3,4,5,6], "tickCount": 50, "labels": false, "tickSize": -4, "title": null}}, "y": {"field": "c", "type": "quantitative", "scale": {"domain": [0, 0.1, 0.4, 5.28], "range": [147, 129, 126, 0], "nice": false, "zero": false}, "axis": {"values": [0, 0.1, 1.5, 3, 4.5], "tickCount": 50, "labelExpr": "format(datum.value, '.1f')", "title": "Relative intensity", "titleFontSize": 11, "tickSize": 4, "labelPadding": 2, "minExtent": 32, "maxExtent": 32, "titlePadding": 3, "labelOverlap": false}}, "y2": {"datum": 0}, "color": {"datum": "LYQ 0°C", "scale": {"domain": ["LYQ 0°C", "LYQ LTC"], "range": ["#0a0a0a", "#e31a1c"]}, "legend": null}}},
     {"mark": {"type": "bar", "width": 7, "xOffset": 3.5, "stroke": "#000", "strokeWidth": 0.8}, "encoding": {"x": {"field": "day", "type": "quantitative"}, "y": {"field": "t", "type": "quantitative", "scale": {"domain": [0, 0.1, 0.4, 5.28], "range": [147, 129, 126, 0], "nice": false, "zero": false}}, "y2": {"datum": 0}, "color": {"datum": "LYQ LTC", "scale": {"domain": ["LYQ 0°C", "LYQ LTC"], "range": ["#0a0a0a", "#e31a1c"]}, "legend": null}}},
     {"mark": {"type": "rule", "xOffset": -3.5, "strokeWidth": 1.2, "color": "#000"}, "encoding": {"x": {"field": "day", "type": "quantitative"}, "y": {"field": "c", "type": "quantitative", "scale": {"domain": [0, 0.1, 0.4, 5.28], "range": [147, 129, 126, 0], "nice": false, "zero": false}}, "y2": {"field": "cu"}}},
     {"mark": {"type": "rule", "xOffset": -5.5, "x2Offset": -1.5, "strokeWidth": 1.2, "color": "#000"}, "encoding": {"x": {"field": "day", "type": "quantitative"}, "x2": {"field": "day"}, "y": {"field": "cu", "type": "quantitative", "scale": {"domain": [0, 0.1, 0.4, 5.28], "range": [147, 129, 126, 0], "nice": false, "zero": false}}}},
     {"transform": [{"filter": "datum.sig != ''"}], "mark": {"type": "rule", "xOffset": -3.5, "y2Offset": -7, "strokeWidth": 1.2, "color": "#000"}, "encoding": {"x": {"field": "day", "type": "quantitative"}, "y": {"field": "cu", "type": "quantitative", "scale": {"domain": [0, 0.1, 0.4, 5.28], "range": [147, 129, 126, 0], "nice": false, "zero": false}}, "y2": {"field": "hi"}}},
     {"transform": [{"filter": "datum.sig != ''"}], "mark": {"type": "rule", "xOffset": -3.5, "x2Offset": 3.5, "yOffset": -7, "strokeWidth": 1.2, "color": "#000"}, "encoding": {"x": {"field": "day", "type": "quantitative"}, "x2": {"field": "day"}, "y": {"field": "hi", "type": "quantitative", "scale": {"domain": [0, 0.1, 0.4, 5.28], "range": [147, 129, 126, 0], "nice": false, "zero": false}}}},
     {"transform": [{"filter": "datum.sig != ''"}], "mark": {"type": "rule", "xOffset": 3.5, "y2Offset": -7, "strokeWidth": 1.2, "color": "#000"}, "encoding": {"x": {"field": "day", "type": "quantitative"}, "y": {"field": "tu", "type": "quantitative", "scale": {"domain": [0, 0.1, 0.4, 5.28], "range": [147, 129, 126, 0], "nice": false, "zero": false}}, "y2": {"field": "hi"}}},
     {"data": {"values": [{"gene": "EjERF39"}]}, "mark": {"type": "rect", "fill": "#ffffff", "xOffset": -2, "x2Offset": 2}, "encoding": {"x": {"datum": -0.44, "type": "quantitative"}, "x2": {"datum": 6.44}, "y": {"datum": 0.1, "type": "quantitative"}, "y2": {"datum": 0.4}}},
     {"data": {"values": [{"gene": "EjERF39"}]}, "mark": {"type": "text", "text": "//", "fontSize": 11, "align": "center", "baseline": "middle"}, "encoding": {"x": {"datum": -0.44, "type": "quantitative"}, "y": {"datum": 0.25, "type": "quantitative"}}},
     {"data": {"values": [{"gene": "EjERF39"}]}, "mark": {"type": "text", "text": "//", "fontSize": 11, "align": "center", "baseline": "middle"}, "encoding": {"x": {"datum": 6.44, "type": "quantitative"}, "y": {"datum": 0.25, "type": "quantitative"}}},
     {"transform": [{"filter": "datum.sig != ''"}], "mark": {"type": "text", "fontSize": 16, "fontWeight": "bold", "dy": -3.5, "baseline": "alphabetic"}, "encoding": {"x": {"field": "day", "type": "quantitative"}, "y": {"field": "hi", "type": "quantitative", "scale": {"domain": [0, 0.1, 0.4, 5.28], "range": [147, 129, 126, 0], "nice": false, "zero": false}}, "text": {"field": "sig"}}},
     {"data": {"values": [{"gene": "EjERF39"}]}, "mark": {"type": "text", "text": "EjERF39", "fontSize": 13.5, "fontWeight": "bold", "fontStyle": "italic", "align": "left", "baseline": "middle", "dx": 9, "dy": 17}, "encoding": {"x": {"datum": -0.44, "type": "quantitative"}, "y": {"datum": 5.28, "type": "quantitative"}}}
    ]
   },
   {
    "width": 189, "height": 147,
    "data": {"name": "genesB"},
    "transform": [{"filter": "datum.gene == 'EjMYB8'"}, {"calculate": "datum.c + datum.cs", "as": "cu"}, {"calculate": "datum.t + datum.ts", "as": "tu"}, {"calculate": "max(datum.cu, datum.tu)", "as": "hi"}],
    "layer": [
     {"mark": {"type": "bar", "width": 7, "xOffset": -3.5, "stroke": "#000", "strokeWidth": 0.8}, "encoding": {"x": {"field": "day", "type": "quantitative", "scale": {"domain": [-0.44, 6.44], "nice": false, "zero": false}, "axis": {"values": [0,0.5,1,2,3,4,5,6], "tickCount": 50, "tickSize": -4, "labelExpr": "indexof([0,0.5,1,2,6], datum.value) >= 0 ? '' + datum.value : ''", "labelPadding": 6, "labelFontSize": 11.5, "labelOverlap": false, "title": "Days after treatment", "titlePadding": 9}}, "y": {"field": "c", "type": "quantitative", "scale": {"domain": [0, 0.072, 0.086, 0.7], "range": [144.7, 124.5, 121.5, 0], "nice": false, "zero": false}, "axis": {"values": [0, 0.05, 0.2, 0.4, 0.6], "tickCount": 50, "labelExpr": "datum.value < 0.1 ? format(datum.value, '.2f') : format(datum.value, '.1f')", "title": "Relative intensity", "titleFontSize": 11, "tickSize": 4, "labelPadding": 2, "minExtent": 32, "maxExtent": 32, "titlePadding": 3, "labelOverlap": false}}, "y2": {"datum": 0}, "color": {"datum": "LYQ 0°C", "scale": {"domain": ["LYQ 0°C", "LYQ LTC"], "range": ["#0a0a0a", "#e31a1c"]}, "legend": null}}},
     {"mark": {"type": "bar", "width": 7, "xOffset": 3.5, "stroke": "#000", "strokeWidth": 0.8}, "encoding": {"x": {"field": "day", "type": "quantitative"}, "y": {"field": "t", "type": "quantitative", "scale": {"domain": [0, 0.072, 0.086, 0.7], "range": [144.7, 124.5, 121.5, 0], "nice": false, "zero": false}}, "y2": {"datum": 0}, "color": {"datum": "LYQ LTC", "scale": {"domain": ["LYQ 0°C", "LYQ LTC"], "range": ["#0a0a0a", "#e31a1c"]}, "legend": null}}},
     {"mark": {"type": "rule", "xOffset": -3.5, "strokeWidth": 1.2, "color": "#000"}, "encoding": {"x": {"field": "day", "type": "quantitative"}, "y": {"field": "c", "type": "quantitative", "scale": {"domain": [0, 0.072, 0.086, 0.7], "range": [144.7, 124.5, 121.5, 0], "nice": false, "zero": false}}, "y2": {"field": "cu"}}},
     {"mark": {"type": "rule", "xOffset": -5.5, "x2Offset": -1.5, "strokeWidth": 1.2, "color": "#000"}, "encoding": {"x": {"field": "day", "type": "quantitative"}, "x2": {"field": "day"}, "y": {"field": "cu", "type": "quantitative", "scale": {"domain": [0, 0.072, 0.086, 0.7], "range": [144.7, 124.5, 121.5, 0], "nice": false, "zero": false}}}},
     {"transform": [{"filter": "datum.sig != ''"}], "mark": {"type": "rule", "xOffset": -3.5, "y2Offset": -7, "strokeWidth": 1.2, "color": "#000"}, "encoding": {"x": {"field": "day", "type": "quantitative"}, "y": {"field": "cu", "type": "quantitative", "scale": {"domain": [0, 0.072, 0.086, 0.7], "range": [144.7, 124.5, 121.5, 0], "nice": false, "zero": false}}, "y2": {"field": "hi"}}},
     {"transform": [{"filter": "datum.sig != ''"}], "mark": {"type": "rule", "xOffset": -3.5, "x2Offset": 3.5, "yOffset": -7, "strokeWidth": 1.2, "color": "#000"}, "encoding": {"x": {"field": "day", "type": "quantitative"}, "x2": {"field": "day"}, "y": {"field": "hi", "type": "quantitative", "scale": {"domain": [0, 0.072, 0.086, 0.7], "range": [144.7, 124.5, 121.5, 0], "nice": false, "zero": false}}}},
     {"transform": [{"filter": "datum.sig != ''"}], "mark": {"type": "rule", "xOffset": 3.5, "y2Offset": -7, "strokeWidth": 1.2, "color": "#000"}, "encoding": {"x": {"field": "day", "type": "quantitative"}, "y": {"field": "tu", "type": "quantitative", "scale": {"domain": [0, 0.072, 0.086, 0.7], "range": [144.7, 124.5, 121.5, 0], "nice": false, "zero": false}}, "y2": {"field": "hi"}}},
     {"data": {"values": [{"gene": "EjMYB8"}]}, "mark": {"type": "rect", "fill": "#ffffff", "xOffset": -2, "x2Offset": 2}, "encoding": {"x": {"datum": -0.44, "type": "quantitative"}, "x2": {"datum": 6.44}, "y": {"datum": 0.072, "type": "quantitative"}, "y2": {"datum": 0.086}}},
     {"data": {"values": [{"gene": "EjMYB8"}]}, "mark": {"type": "text", "text": "//", "fontSize": 11, "align": "center", "baseline": "middle"}, "encoding": {"x": {"datum": -0.44, "type": "quantitative"}, "y": {"datum": 0.079, "type": "quantitative"}}},
     {"data": {"values": [{"gene": "EjMYB8"}]}, "mark": {"type": "text", "text": "//", "fontSize": 11, "align": "center", "baseline": "middle"}, "encoding": {"x": {"datum": 6.44, "type": "quantitative"}, "y": {"datum": 0.079, "type": "quantitative"}}},
     {"transform": [{"filter": "datum.sig != ''"}], "mark": {"type": "text", "fontSize": 16, "fontWeight": "bold", "dy": -3.5, "baseline": "alphabetic"}, "encoding": {"x": {"field": "day", "type": "quantitative"}, "y": {"field": "hi", "type": "quantitative", "scale": {"domain": [0, 0.072, 0.086, 0.7], "range": [144.7, 124.5, 121.5, 0], "nice": false, "zero": false}}, "text": {"field": "sig"}}},
     {"data": {"values": [{"gene": "EjMYB8"}]}, "mark": {"type": "text", "text": "EjMYB8", "fontSize": 13.5, "fontWeight": "bold", "fontStyle": "italic", "align": "left", "baseline": "middle", "dx": 9, "dy": 17}, "encoding": {"x": {"datum": -0.44, "type": "quantitative"}, "y": {"datum": 0.7, "type": "quantitative"}}}
    ]
   }
  ]
 },
 {
  "title": {"text": "C", "anchor": "start", "frame": "group", "fontSize": 21, "fontWeight": "normal", "dx": -50, "offset": -10},
  "spacing": 0, "bounds": "flush",
  "resolve": {"scale": {"color": "independent", "shape": "independent"}},
  "vconcat": [
   {
    "width": 192, "height": 150,
    "data": {"name": "firmC"},
    "transform": [{"calculate": "datum.m + datum.sd", "as": "hi"}, {"calculate": "datum.m - datum.sd", "as": "lo"}],
    "encoding": {"x": {"field": "day", "type": "quantitative", "scale": {"domain": [-0.49, 6.47], "nice": false, "zero": false}, "axis": {"values": [0,1,2,3,4,5,6], "tickCount": 50, "labels": false, "tickSize": -4, "title": null}}},
    "layer": [
     {"mark": {"type": "line", "strokeWidth": 1.3}, "encoding": {"y": {"field": "m", "type": "quantitative", "scale": {"domain": [2.5, 5.5], "nice": false, "zero": false}, "axis": {"values": [3,4,5], "tickCount": 50, "format": "d", "title": "Firmness(N)", "tickSize": 4, "labelPadding": 2, "minExtent": 32, "maxExtent": 32, "titlePadding": 3, "labelOverlap": false}}, "color": {"field": "grp", "type": "nominal", "scale": {"domain": ["LYQ 0°C", "NHB 0°C"], "range": ["#000000", "#f7931e"]}, "legend": {"title": null, "orient": "none", "legendX": 20, "legendY": 5, "symbolSize": 130, "labelFontSize": 12.5, "labelFontWeight": "bold", "rowPadding": 0, "labelOffset": 6}}}},
     {"mark": {"type": "rule", "strokeWidth": 1.3}, "encoding": {"y": {"field": "lo", "type": "quantitative", "scale": {"domain": [2.5, 5.5], "nice": false, "zero": false}}, "y2": {"field": "hi"}, "color": {"field": "grp", "type": "nominal", "scale": {"domain": ["LYQ 0°C", "NHB 0°C"], "range": ["#000000", "#f7931e"]}, "legend": {"title": null, "orient": "none", "legendX": 20, "legendY": 5, "symbolSize": 130, "labelFontSize": 12.5, "labelFontWeight": "bold", "rowPadding": 0, "labelOffset": 6}}}},
     {"mark": {"type": "rule", "strokeWidth": 1.3, "xOffset": -2.5, "x2Offset": 2.5}, "encoding": {"x2": {"field": "day"}, "y": {"field": "hi", "type": "quantitative", "scale": {"domain": [2.5, 5.5], "nice": false, "zero": false}}, "color": {"field": "grp", "type": "nominal", "scale": {"domain": ["LYQ 0°C", "NHB 0°C"], "range": ["#000000", "#f7931e"]}, "legend": {"title": null, "orient": "none", "legendX": 20, "legendY": 5, "symbolSize": 130, "labelFontSize": 12.5, "labelFontWeight": "bold", "rowPadding": 0, "labelOffset": 6}}}},
     {"mark": {"type": "rule", "strokeWidth": 1.3, "xOffset": -2.5, "x2Offset": 2.5}, "encoding": {"x2": {"field": "day"}, "y": {"field": "lo", "type": "quantitative", "scale": {"domain": [2.5, 5.5], "nice": false, "zero": false}}, "color": {"field": "grp", "type": "nominal", "scale": {"domain": ["LYQ 0°C", "NHB 0°C"], "range": ["#000000", "#f7931e"]}, "legend": {"title": null, "orient": "none", "legendX": 20, "legendY": 5, "symbolSize": 130, "labelFontSize": 12.5, "labelFontWeight": "bold", "rowPadding": 0, "labelOffset": 6}}}},
     {"mark": {"type": "point", "filled": true, "size": 100, "opacity": 1}, "encoding": {"y": {"field": "m", "type": "quantitative", "scale": {"domain": [2.5, 5.5], "nice": false, "zero": false}}, "color": {"field": "grp", "type": "nominal", "scale": {"domain": ["LYQ 0°C", "NHB 0°C"], "range": ["#000000", "#f7931e"]}, "legend": {"title": null, "orient": "none", "legendX": 20, "legendY": 5, "symbolSize": 130, "labelFontSize": 12.5, "labelFontWeight": "bold", "rowPadding": 0, "labelOffset": 6}}, "shape": {"field": "grp", "type": "nominal", "scale": {"domain": ["LYQ 0°C", "NHB 0°C"], "range": ["square", "circle"]}, "legend": {"title": null, "orient": "none", "legendX": 20, "legendY": 5, "symbolSize": 130, "labelFontSize": 12.5, "labelFontWeight": "bold", "rowPadding": 0, "labelOffset": 6}}}},
     {"transform": [{"filter": "datum.sig != ''"}], "mark": {"type": "text", "fontSize": 16, "fontWeight": "bold", "dy": -4, "baseline": "alphabetic"}, "encoding": {"y": {"field": "hi", "type": "quantitative", "scale": {"domain": [2.5, 5.5], "nice": false, "zero": false}}, "text": {"field": "sig"}}}
    ]
   },
   {
    "width": 192, "height": 149,
    "data": {"name": "genesC"},
    "transform": [{"filter": "datum.gene == 'Ej4CL1'"}, {"calculate": "datum.c + datum.cs", "as": "cu"}, {"calculate": "datum.t + datum.ts", "as": "tu"}, {"calculate": "max(datum.cu, datum.tu)", "as": "hi"}],
    "layer": [
     {"mark": {"type": "bar", "width": 9, "xOffset": -4.5, "stroke": "#000", "strokeWidth": 0.8}, "encoding": {"x": {"field": "day", "type": "quantitative", "scale": {"domain": [-0.49, 6.47], "nice": false, "zero": false}, "axis": {"values": [0,1,2,3,4,5,6], "tickCount": 50, "labels": false, "tickSize": -4, "title": null}}, "y": {"field": "c", "type": "quantitative", "scale": {"domain": [0.5, 9.1], "nice": false, "zero": false}, "axis": {"values": [3,6,9], "tickCount": 50, "format": "d", "title": "Relative intensity", "tickSize": 4, "labelPadding": 2, "minExtent": 32, "maxExtent": 32, "titlePadding": 3, "labelOverlap": false}}, "y2": {"datum": 0.5}, "color": {"datum": "LYQ 0°C", "scale": {"domain": ["LYQ 0°C", "NHB 0°C"], "range": ["#0a0a0a", "#f58a1f"]}, "legend": {"title": null, "orient": "none", "legendX": 107, "legendY": 4.5, "symbolType": "M-1,-0.5H1V0.5H-1Z", "symbolSize": 441, "symbolStrokeColor": "#000", "symbolStrokeWidth": 1, "labelFontSize": 12, "labelFontWeight": "bold", "rowPadding": -3.5, "labelOffset": 4}}}},
     {"mark": {"type": "bar", "width": 9, "xOffset": 4.5, "stroke": "#000", "strokeWidth": 0.8}, "encoding": {"x": {"field": "day", "type": "quantitative"}, "y": {"field": "t", "type": "quantitative", "scale": {"domain": [0.5, 9.1], "nice": false, "zero": false}}, "y2": {"datum": 0.5}, "color": {"datum": "NHB 0°C", "scale": {"domain": ["LYQ 0°C", "NHB 0°C"], "range": ["#0a0a0a", "#f58a1f"]}, "legend": {"title": null, "orient": "none", "legendX": 107, "legendY": 4.5, "symbolType": "M-1,-0.5H1V0.5H-1Z", "symbolSize": 441, "symbolStrokeColor": "#000", "symbolStrokeWidth": 1, "labelFontSize": 12, "labelFontWeight": "bold", "rowPadding": -3.5, "labelOffset": 4}}}},
     {"mark": {"type": "rule", "xOffset": -4.5, "strokeWidth": 1.2, "color": "#000"}, "encoding": {"x": {"field": "day", "type": "quantitative"}, "y": {"field": "c", "type": "quantitative", "scale": {"domain": [0.5, 9.1], "nice": false, "zero": false}}, "y2": {"field": "cu"}}},
     {"mark": {"type": "rule", "xOffset": -6.5, "x2Offset": -2.5, "strokeWidth": 1.2, "color": "#000"}, "encoding": {"x": {"field": "day", "type": "quantitative"}, "x2": {"field": "day"}, "y": {"field": "cu", "type": "quantitative", "scale": {"domain": [0.5, 9.1], "nice": false, "zero": false}}}},
     {"mark": {"type": "rule", "xOffset": 4.5, "strokeWidth": 1.2, "color": "#d9700f"}, "encoding": {"x": {"field": "day", "type": "quantitative"}, "y": {"field": "t", "type": "quantitative", "scale": {"domain": [0.5, 9.1], "nice": false, "zero": false}}, "y2": {"field": "tu"}}},
     {"mark": {"type": "rule", "xOffset": 2.5, "x2Offset": 6.5, "strokeWidth": 1.2, "color": "#d9700f"}, "encoding": {"x": {"field": "day", "type": "quantitative"}, "x2": {"field": "day"}, "y": {"field": "tu", "type": "quantitative", "scale": {"domain": [0.5, 9.1], "nice": false, "zero": false}}}},
     {"transform": [{"filter": "datum.sig != ''"}], "mark": {"type": "rule", "xOffset": -4.5, "y2Offset": -7, "strokeWidth": 1.2, "color": "#000"}, "encoding": {"x": {"field": "day", "type": "quantitative"}, "y": {"field": "cu", "type": "quantitative", "scale": {"domain": [0.5, 9.1], "nice": false, "zero": false}}, "y2": {"field": "hi"}}},
     {"transform": [{"filter": "datum.sig != ''"}], "mark": {"type": "rule", "xOffset": -4.5, "x2Offset": 4.5, "yOffset": -7, "strokeWidth": 1.2, "color": "#000"}, "encoding": {"x": {"field": "day", "type": "quantitative"}, "x2": {"field": "day"}, "y": {"field": "hi", "type": "quantitative", "scale": {"domain": [0.5, 9.1], "nice": false, "zero": false}}}},
     {"transform": [{"filter": "datum.sig != ''"}], "mark": {"type": "rule", "xOffset": 4.5, "y2Offset": -7, "strokeWidth": 1.2, "color": "#000"}, "encoding": {"x": {"field": "day", "type": "quantitative"}, "y": {"field": "tu", "type": "quantitative", "scale": {"domain": [0.5, 9.1], "nice": false, "zero": false}}, "y2": {"field": "hi"}}},
     {"transform": [{"filter": "datum.sig != ''"}], "mark": {"type": "text", "fontSize": 16, "fontWeight": "bold", "dy": -3.5, "baseline": "alphabetic"}, "encoding": {"x": {"field": "day", "type": "quantitative"}, "y": {"field": "hi", "type": "quantitative", "scale": {"domain": [0.5, 9.1], "nice": false, "zero": false}}, "text": {"field": "sig"}}},
     {"data": {"values": [{"gene": "Ej4CL1"}]}, "mark": {"type": "text", "text": "Ej4CL1", "fontSize": 13.5, "fontWeight": "bold", "fontStyle": "italic", "align": "left", "baseline": "middle", "dx": 10, "dy": 20}, "encoding": {"x": {"datum": -0.49, "type": "quantitative"}, "y": {"datum": 9.1, "type": "quantitative"}}}
    ]
   },
   {
    "width": 192, "height": 150,
    "data": {"name": "genesC"},
    "transform": [{"filter": "datum.gene == 'EjERF39'"}, {"calculate": "datum.c + datum.cs", "as": "cu"}, {"calculate": "datum.t + datum.ts", "as": "tu"}, {"calculate": "max(datum.cu, datum.tu)", "as": "hi"}],
    "layer": [
     {"mark": {"type": "bar", "width": 9, "xOffset": -4.5, "stroke": "#000", "strokeWidth": 0.8}, "encoding": {"x": {"field": "day", "type": "quantitative", "scale": {"domain": [-0.49, 6.47], "nice": false, "zero": false}, "axis": {"values": [0,1,2,3,4,5,6], "tickCount": 50, "labels": false, "tickSize": -4, "title": null}}, "y": {"field": "c", "type": "quantitative", "scale": {"domain": [0, 0.04, 0.12, 5.2], "range": [147, 130.6, 127.6, 0], "nice": false, "zero": false}, "axis": {"values": [0, 0.03, 1.5, 3, 4.5], "tickCount": 50, "labelExpr": "datum.value < 0.1 ? format(datum.value, '.2f') : format(datum.value, '.1f')", "labelFontSize": {"condition": {"test": "datum.value < 0.1", "value": 10.5}, "value": 12}, "title": "Relative intensity", "tickSize": 4, "labelPadding": 2, "minExtent": 32, "maxExtent": 32, "titlePadding": 3, "labelOverlap": false}}, "y2": {"datum": 0}, "color": {"datum": "LYQ 0°C", "scale": {"domain": ["LYQ 0°C", "NHB 0°C"], "range": ["#0a0a0a", "#f58a1f"]}, "legend": null}}},
     {"mark": {"type": "bar", "width": 9, "xOffset": 4.5, "stroke": "#000", "strokeWidth": 0.8}, "encoding": {"x": {"field": "day", "type": "quantitative"}, "y": {"field": "t", "type": "quantitative", "scale": {"domain": [0, 0.04, 0.12, 5.2], "range": [147, 130.6, 127.6, 0], "nice": false, "zero": false}}, "y2": {"datum": 0}, "color": {"datum": "NHB 0°C", "scale": {"domain": ["LYQ 0°C", "NHB 0°C"], "range": ["#0a0a0a", "#f58a1f"]}, "legend": null}}},
     {"mark": {"type": "rule", "xOffset": -4.5, "strokeWidth": 1.2, "color": "#000"}, "encoding": {"x": {"field": "day", "type": "quantitative"}, "y": {"field": "c", "type": "quantitative", "scale": {"domain": [0, 0.04, 0.12, 5.2], "range": [147, 130.6, 127.6, 0], "nice": false, "zero": false}}, "y2": {"field": "cu"}}},
     {"mark": {"type": "rule", "xOffset": -6.5, "x2Offset": -2.5, "strokeWidth": 1.2, "color": "#000"}, "encoding": {"x": {"field": "day", "type": "quantitative"}, "x2": {"field": "day"}, "y": {"field": "cu", "type": "quantitative", "scale": {"domain": [0, 0.04, 0.12, 5.2], "range": [147, 130.6, 127.6, 0], "nice": false, "zero": false}}}},
     {"mark": {"type": "rule", "xOffset": 4.5, "strokeWidth": 1.2, "color": "#d9700f"}, "encoding": {"x": {"field": "day", "type": "quantitative"}, "y": {"field": "t", "type": "quantitative", "scale": {"domain": [0, 0.04, 0.12, 5.2], "range": [147, 130.6, 127.6, 0], "nice": false, "zero": false}}, "y2": {"field": "tu"}}},
     {"transform": [{"filter": "datum.sig != ''"}], "mark": {"type": "rule", "xOffset": -4.5, "y2Offset": -7, "strokeWidth": 1.2, "color": "#000"}, "encoding": {"x": {"field": "day", "type": "quantitative"}, "y": {"field": "cu", "type": "quantitative", "scale": {"domain": [0, 0.04, 0.12, 5.2], "range": [147, 130.6, 127.6, 0], "nice": false, "zero": false}}, "y2": {"field": "hi"}}},
     {"transform": [{"filter": "datum.sig != ''"}], "mark": {"type": "rule", "xOffset": -4.5, "x2Offset": 4.5, "yOffset": -7, "strokeWidth": 1.2, "color": "#000"}, "encoding": {"x": {"field": "day", "type": "quantitative"}, "x2": {"field": "day"}, "y": {"field": "hi", "type": "quantitative", "scale": {"domain": [0, 0.04, 0.12, 5.2], "range": [147, 130.6, 127.6, 0], "nice": false, "zero": false}}}},
     {"transform": [{"filter": "datum.sig != ''"}], "mark": {"type": "rule", "xOffset": 4.5, "y2Offset": -7, "strokeWidth": 1.2, "color": "#000"}, "encoding": {"x": {"field": "day", "type": "quantitative"}, "y": {"field": "tu", "type": "quantitative", "scale": {"domain": [0, 0.04, 0.12, 5.2], "range": [147, 130.6, 127.6, 0], "nice": false, "zero": false}}, "y2": {"field": "hi"}}},
     {"data": {"values": [{"gene": "EjERF39"}]}, "mark": {"type": "rect", "fill": "#ffffff", "xOffset": -2, "x2Offset": 2}, "encoding": {"x": {"datum": -0.49, "type": "quantitative"}, "x2": {"datum": 6.47}, "y": {"datum": 0.04, "type": "quantitative"}, "y2": {"datum": 0.12}}},
     {"data": {"values": [{"gene": "EjERF39"}]}, "mark": {"type": "text", "text": "//", "fontSize": 11, "align": "center", "baseline": "middle"}, "encoding": {"x": {"datum": -0.49, "type": "quantitative"}, "y": {"datum": 0.08, "type": "quantitative"}}},
     {"data": {"values": [{"gene": "EjERF39"}]}, "mark": {"type": "text", "text": "//", "fontSize": 11, "align": "center", "baseline": "middle"}, "encoding": {"x": {"datum": 6.47, "type": "quantitative"}, "y": {"datum": 0.08, "type": "quantitative"}}},
     {"transform": [{"filter": "datum.sig != ''"}], "mark": {"type": "text", "fontSize": 16, "fontWeight": "bold", "dy": -3.5, "baseline": "alphabetic"}, "encoding": {"x": {"field": "day", "type": "quantitative"}, "y": {"field": "hi", "type": "quantitative", "scale": {"domain": [0, 0.04, 0.12, 5.2], "range": [147, 130.6, 127.6, 0], "nice": false, "zero": false}}, "text": {"field": "sig"}}},
     {"data": {"values": [{"gene": "EjERF39"}]}, "mark": {"type": "text", "text": "EjERF39", "fontSize": 13.5, "fontWeight": "bold", "fontStyle": "italic", "align": "left", "baseline": "middle", "dx": 10, "dy": 17}, "encoding": {"x": {"datum": -0.49, "type": "quantitative"}, "y": {"datum": 5.2, "type": "quantitative"}}}
    ]
   },
   {
    "width": 192, "height": 146,
    "data": {"name": "genesC"},
    "transform": [{"filter": "datum.gene == 'EjMYB8'"}, {"calculate": "datum.c + datum.cs", "as": "cu"}, {"calculate": "datum.t + datum.ts", "as": "tu"}, {"calculate": "max(datum.cu, datum.tu)", "as": "hi"}],
    "layer": [
     {"mark": {"type": "bar", "width": 9, "xOffset": -4.5, "stroke": "#000", "strokeWidth": 0.8}, "encoding": {"x": {"field": "day", "type": "quantitative", "scale": {"domain": [-0.49, 6.47], "nice": false, "zero": false}, "axis": {"values": [0,1,2,3,4,5,6], "tickCount": 50, "tickSize": -4, "labelExpr": "indexof([0,1,2,6], datum.value) >= 0 ? '' + datum.value : ''", "labelPadding": 6, "labelFontSize": 11.5, "labelOverlap": false, "title": "Days after treatment", "titlePadding": 9}}, "y": {"field": "c", "type": "quantitative", "scale": {"domain": [0, 0.031, 0.084, 0.7], "range": [144.7, 126.5, 123.5, 0], "nice": false, "zero": false}, "axis": {"values": [0, 0.02, 0.2, 0.4, 0.6], "tickCount": 50, "labelExpr": "datum.value < 0.1 ? format(datum.value, '.2f') : format(datum.value, '.1f')", "labelFontSize": {"condition": {"test": "datum.value < 0.1", "value": 10.5}, "value": 12}, "title": "Relative intensity", "tickSize": 4, "labelPadding": 2, "minExtent": 32, "maxExtent": 32, "titlePadding": 3, "labelOverlap": false}}, "y2": {"datum": 0}, "color": {"datum": "LYQ 0°C", "scale": {"domain": ["LYQ 0°C", "NHB 0°C"], "range": ["#0a0a0a", "#f58a1f"]}, "legend": null}}},
     {"mark": {"type": "bar", "width": 9, "xOffset": 4.5, "stroke": "#000", "strokeWidth": 0.8}, "encoding": {"x": {"field": "day", "type": "quantitative"}, "y": {"field": "t", "type": "quantitative", "scale": {"domain": [0, 0.031, 0.084, 0.7], "range": [144.7, 126.5, 123.5, 0], "nice": false, "zero": false}}, "y2": {"datum": 0}, "color": {"datum": "NHB 0°C", "scale": {"domain": ["LYQ 0°C", "NHB 0°C"], "range": ["#0a0a0a", "#f58a1f"]}, "legend": null}}},
     {"mark": {"type": "rule", "xOffset": -4.5, "strokeWidth": 1.2, "color": "#000"}, "encoding": {"x": {"field": "day", "type": "quantitative"}, "y": {"field": "c", "type": "quantitative", "scale": {"domain": [0, 0.031, 0.084, 0.7], "range": [144.7, 126.5, 123.5, 0], "nice": false, "zero": false}}, "y2": {"field": "cu"}}},
     {"mark": {"type": "rule", "xOffset": -6.5, "x2Offset": -2.5, "strokeWidth": 1.2, "color": "#000"}, "encoding": {"x": {"field": "day", "type": "quantitative"}, "x2": {"field": "day"}, "y": {"field": "cu", "type": "quantitative", "scale": {"domain": [0, 0.031, 0.084, 0.7], "range": [144.7, 126.5, 123.5, 0], "nice": false, "zero": false}}}},
     {"transform": [{"filter": "datum.sig != ''"}], "mark": {"type": "rule", "xOffset": -4.5, "y2Offset": -7, "strokeWidth": 1.2, "color": "#000"}, "encoding": {"x": {"field": "day", "type": "quantitative"}, "y": {"field": "cu", "type": "quantitative", "scale": {"domain": [0, 0.031, 0.084, 0.7], "range": [144.7, 126.5, 123.5, 0], "nice": false, "zero": false}}, "y2": {"field": "hi"}}},
     {"transform": [{"filter": "datum.sig != ''"}], "mark": {"type": "rule", "xOffset": -4.5, "x2Offset": 4.5, "yOffset": -7, "strokeWidth": 1.2, "color": "#000"}, "encoding": {"x": {"field": "day", "type": "quantitative"}, "x2": {"field": "day"}, "y": {"field": "hi", "type": "quantitative", "scale": {"domain": [0, 0.031, 0.084, 0.7], "range": [144.7, 126.5, 123.5, 0], "nice": false, "zero": false}}}},
     {"transform": [{"filter": "datum.sig != ''"}], "mark": {"type": "rule", "xOffset": 4.5, "y2Offset": -7, "strokeWidth": 1.2, "color": "#000"}, "encoding": {"x": {"field": "day", "type": "quantitative"}, "y": {"field": "tu", "type": "quantitative", "scale": {"domain": [0, 0.031, 0.084, 0.7], "range": [144.7, 126.5, 123.5, 0], "nice": false, "zero": false}}, "y2": {"field": "hi"}}},
     {"data": {"values": [{"gene": "EjMYB8"}]}, "mark": {"type": "rect", "fill": "#ffffff", "xOffset": -2, "x2Offset": 2}, "encoding": {"x": {"datum": -0.49, "type": "quantitative"}, "x2": {"datum": 6.47}, "y": {"datum": 0.031, "type": "quantitative"}, "y2": {"datum": 0.084}}},
     {"data": {"values": [{"gene": "EjMYB8"}]}, "mark": {"type": "text", "text": "//", "fontSize": 11, "align": "center", "baseline": "middle"}, "encoding": {"x": {"datum": -0.49, "type": "quantitative"}, "y": {"datum": 0.0575, "type": "quantitative"}}},
     {"data": {"values": [{"gene": "EjMYB8"}]}, "mark": {"type": "text", "text": "//", "fontSize": 11, "align": "center", "baseline": "middle"}, "encoding": {"x": {"datum": 6.47, "type": "quantitative"}, "y": {"datum": 0.0575, "type": "quantitative"}}},
     {"transform": [{"filter": "datum.sig != ''"}], "mark": {"type": "text", "fontSize": 16, "fontWeight": "bold", "dy": -3.5, "baseline": "alphabetic"}, "encoding": {"x": {"field": "day", "type": "quantitative"}, "y": {"field": "hi", "type": "quantitative", "scale": {"domain": [0, 0.031, 0.084, 0.7], "range": [144.7, 126.5, 123.5, 0], "nice": false, "zero": false}}, "text": {"field": "sig"}}},
     {"data": {"values": [{"gene": "EjMYB8"}]}, "mark": {"type": "text", "text": "EjMYB8", "fontSize": 13.5, "fontWeight": "bold", "fontStyle": "italic", "align": "left", "baseline": "middle", "dx": 10, "dy": 13}, "encoding": {"x": {"datum": -0.49, "type": "quantitative"}, "y": {"datum": 0.7, "type": "quantitative"}}}
    ]
   }
  ]
 }
 ]
}
]
}
